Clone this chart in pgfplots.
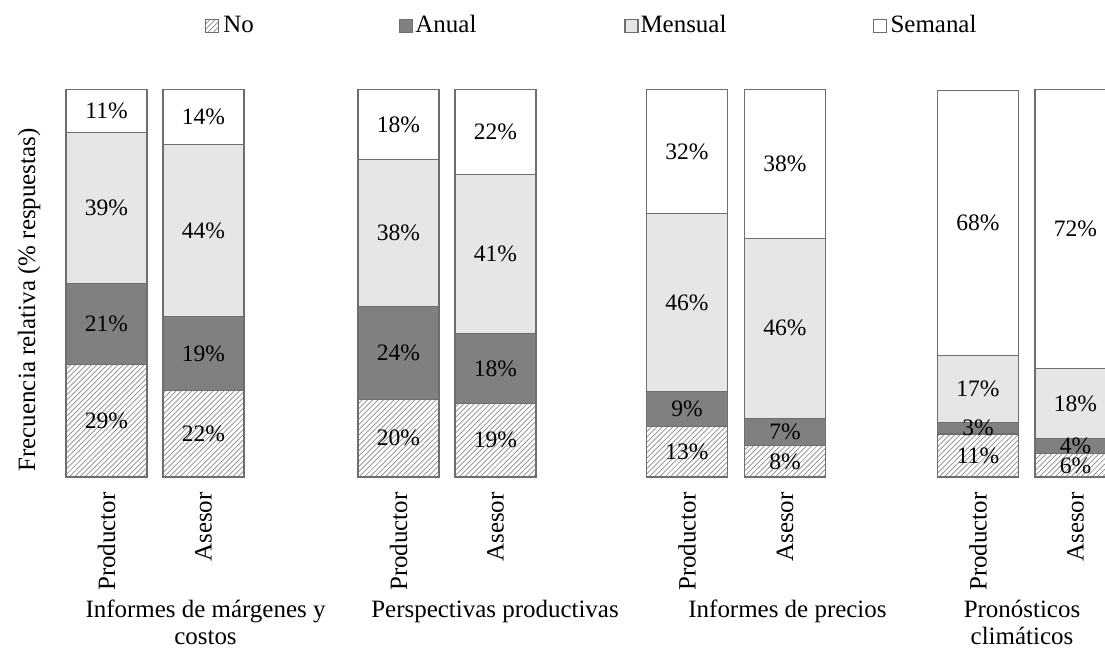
\documentclass[border=0pt]{standalone}
\usepackage{fontspec}
\setmainfont{Liberation Serif}
\usepackage{pgfplots}
\pgfplotsset{compat=1.18}
\usetikzlibrary{patterns}

\definecolor{anual}{HTML}{808080}
\definecolor{mensual}{HTML}{E7E6E6}
\definecolor{borde}{HTML}{6E6E6E}

\newcommand{\lbl}{\fontsize{14.2}{15.5}\selectfont}

\begin{document}
\begin{tikzpicture}
\useasboundingbox (0,0) rectangle (22.1cm,13.24cm);
\clip (0,0) rectangle (22.1cm,13.24cm);
\begin{axis}[
  at={(0cm,3.7cm)}, anchor=south west,
  scale only axis, width=22.1cm, height=7.75cm,
  xmin=0, xmax=1105, ymin=0, ymax=100,
  clip=false,
  ybar stacked, bar width=81, bar shift=0pt,
  axis line style={draw=none},
  ytick=\empty,
  xtick={106.5,203.5,398.5,495.5,687,785,978,1075.5},
  xticklabels={Productor,Asesor,Productor,Asesor,Productor,Asesor,Productor,Asesor},
  major tick length=0pt,
  xticklabel style={rotate=90, anchor=east, inner sep=0pt, font=\lbl},
  xticklabel shift=0.3cm,
  nodes near coords={\pgfmathprintnumber[assume math mode=true,fixed,precision=0]{\rawy}\%},
  visualization depends on=rawy \as \rawy,
  every node near coord/.append style={anchor=center,
    font=\fontsize{13.4}{16}\selectfont, text=black},
  legend columns=4,
  legend style={draw=none, fill=none, at={(axis cs:205,116.5)}, anchor=west,
    inner sep=0pt, column sep=0pt, font=\lbl, nodes={inner sep=0pt}},
  legend image code/.code={\draw[#1] (0cm,-0.13cm) rectangle (0.26cm,0.13cm);},
]
% No
\addplot[fill=white, draw=borde, line width=0.6pt,
  postaction={pattern=north east lines, pattern color=black!45}] coordinates {
  (106.5,29) (203.5,22.22) (398.5,20) (495.5,19)
  (687,13) (785,8.08) (978,11.1) (1075.5,6)
};
% Anual
\addplot[fill=anual, draw=borde, line width=0.6pt] coordinates {
  (106.5,21) (203.5,19.19) (398.5,24) (495.5,18)
  (687,9) (785,7.07) (978,3.0) (1075.5,4)
};
% Mensual
\addplot[fill=mensual, draw=borde, line width=0.6pt] coordinates {
  (106.5,39) (203.5,44.44) (398.5,38) (495.5,41)
  (687,46) (785,46.46) (978,17.2) (1075.5,18)
};
% Semanal
\addplot[fill=white, draw=borde, line width=0.6pt] coordinates {
  (106.5,11) (203.5,14.14) (398.5,18) (495.5,22)
  (687,32) (785,38.38) (978,68.4) (1075.5,72)
};
\addlegendentry{\makebox[3.6cm][l]{\hspace{0.08cm}No}}
\addlegendentry{\makebox[4.22cm][l]{\hspace{0.04cm}Anual}}
\addlegendentry{\makebox[4.68cm][l]{\hspace{0.04cm}Mensual}}
\addlegendentry{\makebox[2.2cm][l]{\hspace{0.08cm}Semanal}}

\node[rotate=90, font=\lbl] at (axis cs:29,45.7) {Frecuencia relativa (\% respuestas)};
\node[align=center, anchor=north, inner sep=0pt, font=\lbl] at (axis cs:205.5,-31.7) {Informes de márgenes y\\costos};
\node[align=center, anchor=north, inner sep=0pt, font=\lbl] at (axis cs:495,-31.7) {Perspectivas productivas};
\node[align=center, anchor=north, inner sep=0pt, font=\lbl] at (axis cs:787.5,-31.7) {Informes de precios};
\node[align=center, anchor=north, inner sep=0pt, font=\lbl] at (axis cs:1022,-31.7) {Pronósticos\\climáticos};
\end{axis}
\end{tikzpicture}
\end{document}
